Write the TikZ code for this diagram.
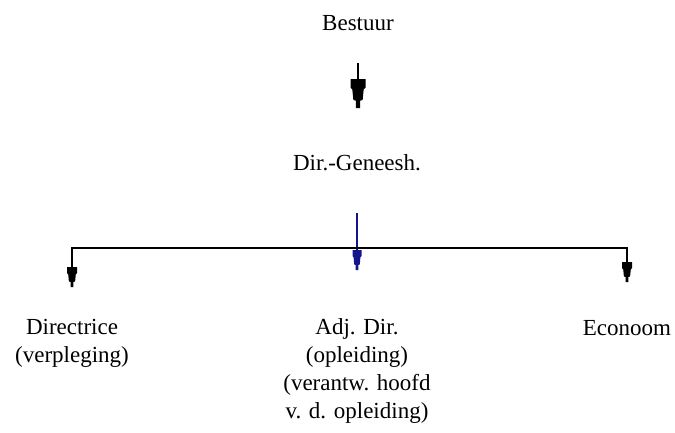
\documentclass[tikz,border=0pt]{standalone}
\usepackage{fontspec}
\setmainfont{Liberation Serif}
\usetikzlibrary{arrows.meta}

% Stepped arrow head: a wide block, a tapered waist and a narrow tip
\pgfdeclarearrow{
  name = Step,
  parameters = {\the\pgfarrowlength,\the\pgfarrowwidth},
  setup code = {
    \pgfarrowssettipend{\pgfarrowlength}
    \pgfarrowssetlineend{.5\pgfarrowlength}
    \pgfarrowssavethe\pgfarrowlength
    \pgfarrowssavethe\pgfarrowwidth
  },
  drawing code = {
    \pgfpathmoveto{\pgfpoint{0pt}{.5\pgfarrowwidth}}
    \pgfpathlineto{\pgfpoint{.30\pgfarrowlength}{.5\pgfarrowwidth}}
    \pgfpathlineto{\pgfpoint{.36\pgfarrowlength}{.38\pgfarrowwidth}}
    \pgfpathlineto{\pgfpoint{.72\pgfarrowlength}{.31\pgfarrowwidth}}
    \pgfpathlineto{\pgfpoint{.75\pgfarrowlength}{.14\pgfarrowwidth}}
    \pgfpathlineto{\pgfpoint{\pgfarrowlength}{.14\pgfarrowwidth}}
    \pgfpathlineto{\pgfpoint{\pgfarrowlength}{-.14\pgfarrowwidth}}
    \pgfpathlineto{\pgfpoint{.75\pgfarrowlength}{-.14\pgfarrowwidth}}
    \pgfpathlineto{\pgfpoint{.72\pgfarrowlength}{-.31\pgfarrowwidth}}
    \pgfpathlineto{\pgfpoint{.36\pgfarrowlength}{-.38\pgfarrowwidth}}
    \pgfpathlineto{\pgfpoint{.30\pgfarrowlength}{-.5\pgfarrowwidth}}
    \pgfpathlineto{\pgfpoint{0pt}{-.5\pgfarrowwidth}}
    \pgfpathclose
    \pgfusepathqfill
  },
  defaults = {length = 20pt, width = 10pt}
}

\definecolor{linkblue}{RGB}{20,20,140}

\tikzset{
  label/.style = {inner sep=0pt, anchor=base, align=center,
                  font=\fontsize{23}{28}\selectfont},
  link/.style  = {line width=1.6pt},
  bigtip/.style = {-{Step[length=29pt,width=15pt]}},
}

\begin{document}
\begin{tikzpicture}[x=1pt, y=-1pt]
  \useasboundingbox[fill=white] (0,0) rectangle (675,432);

  % labels (a multi-line label sits on the baseline of its last line)
  \node[label] (bestuur)    at (358,30)  {Bestuur};
  \node[label] (dir)        at (357,170) {Dir.-Geneesh.};
  \node[label] (directrice) at (72,362)  {Directrice\\(verpleging)};
  \node[label] (adj)        at (357,418) {Adj. Dir.\\(opleiding)\\(verantw. hoofd\\v. d. opleiding)};
  \node[label] (econoom)    at (627,335) {Econoom};

  % branch bar and the ends of the arrows
  \coordinate (topstart) at ([yshift=-33pt]bestuur.base);
  \coordinate (toptip)   at ([yshift=62pt]dir.base);
  \coordinate (midstart) at ([yshift=-43pt]dir.base);
  \coordinate (midtip)   at ([yshift=148pt]adj.base);
  \coordinate (bar)      at ([yshift=-78pt]dir.base);
  \coordinate (lefttip)  at ([yshift=75pt]directrice.base);
  \coordinate (righttip) at ([yshift=53pt]econoom.base);

  % connectors
  \draw[link, bigtip] (topstart) -- (topstart |- toptip);
  \draw[link, linkblue, -{Step[length=20pt,width=9pt]}]
    (midstart) -- (midstart |- midtip);
  \draw[link, {Step[length=20pt,width=10pt]}-{Step[length=20pt,width=10pt]}]
    (lefttip) -- (bar -| lefttip) -- (bar -| righttip) -- (righttip);
\end{tikzpicture}
\end{document}
